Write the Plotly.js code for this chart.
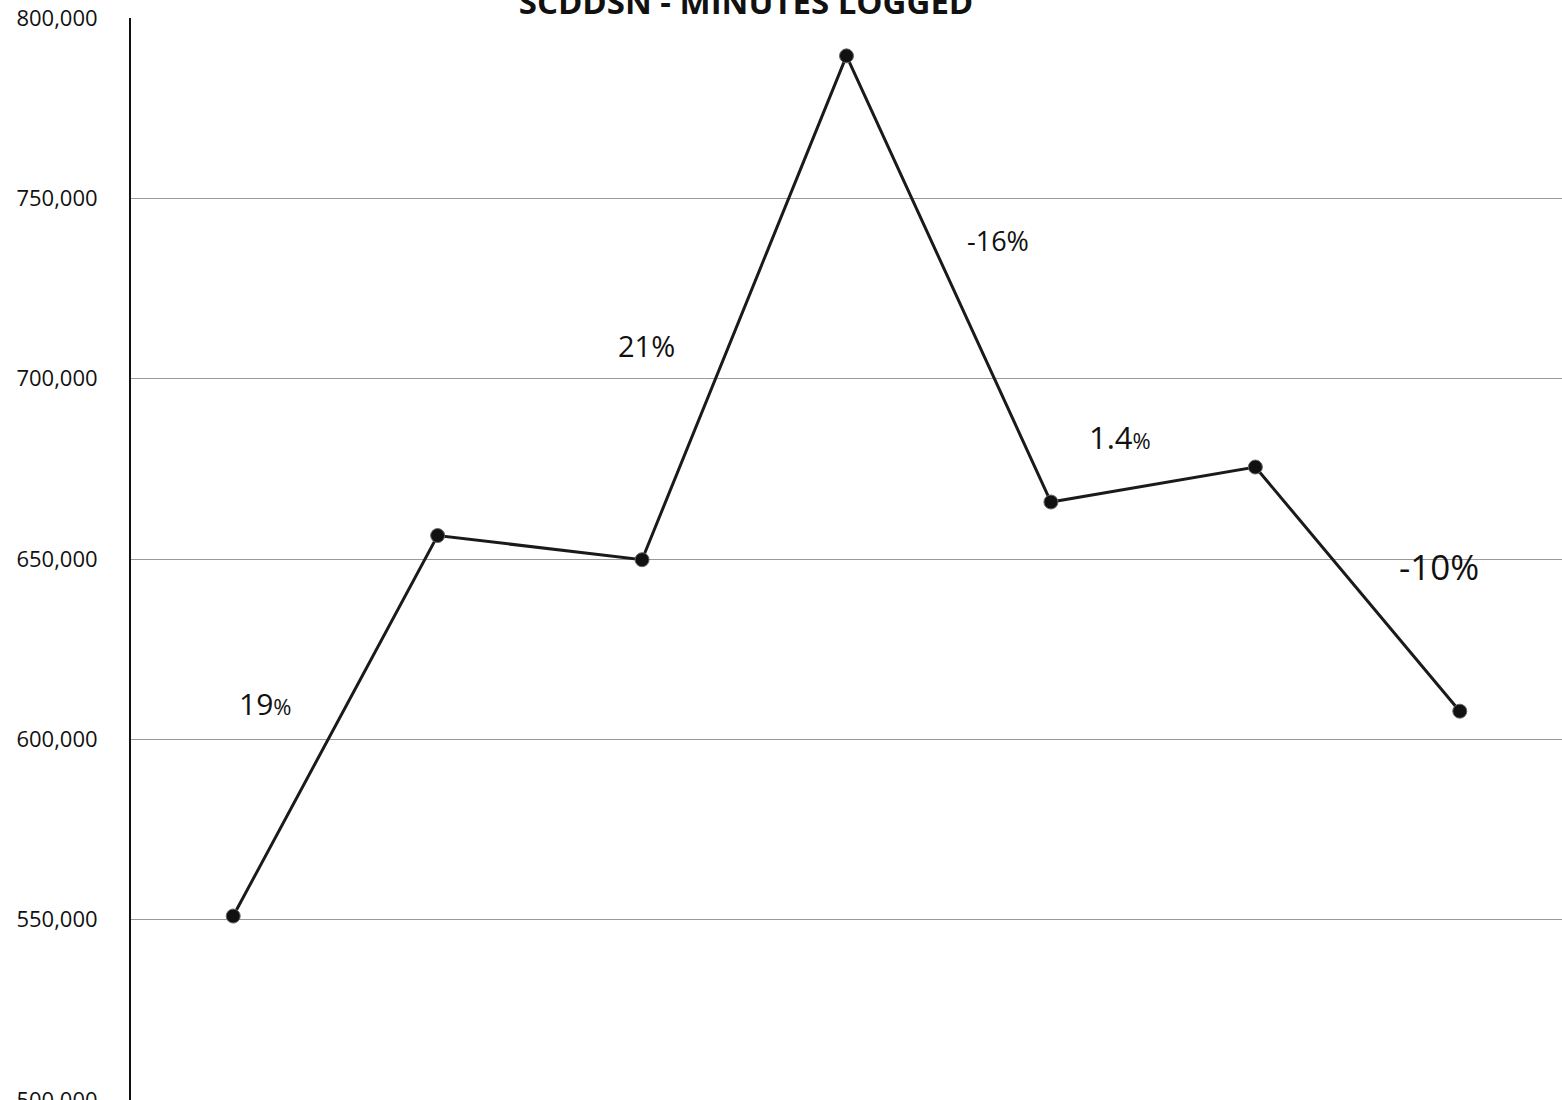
<!DOCTYPE html>
<html>
<head>
<meta charset="utf-8">
<script src="https://cdn.plot.ly/plotly-3.0.1.min.js"></script>
<style>html,body{margin:0;padding:0;background:#fff;}#chart{width:1562px;height:1100px;}</style>
</head>
<body>
<div id="chart"></div>
<script>
// Data
const periods = [0, 1, 2, 3, 4, 5, 6];
const minutesLogged = [551000, 656500, 649800, 789500, 665800, 675500, 607800];
const changeLabels = ['19<span style="font-size:22px">%</span>', '21%', '-16%', '1.4<span style="font-size:22px">%</span>', '-10%'];
const yTickVals = [500000, 550000, 600000, 650000, 700000, 750000, 800000];
const yTickText = ['500,000', '550,000', '600,000', '650,000', '700,000', '750,000', '800,000'];

// Label placement (layout only)
const labelPos = [
  {x: 0.16, y: 609800, size: 30},
  {x: 2.02, y: 709300, size: 29},
  {x: 3.74, y: 738400, size: 27},
  {x: 4.34, y: 683800, size: 31},
  {x: 5.9, y: 648000, size: 35}
];

const trace = {
  x: periods,
  y: minutesLogged,
  type: 'scatter',
  mode: 'lines+markers',
  line: {color: '#1a1a1a', width: 3},
  marker: {color: '#111', size: 14, line: {color: '#666', width: 1}},
  hoverinfo: 'skip',
  showlegend: false
};

const annotations = changeLabels.map((t, i) => ({
  x: labelPos[i].x, y: labelPos[i].y, xref: 'x', yref: 'y',
  text: t, showarrow: false,
  font: {family: 'Open Sans, sans-serif', size: labelPos[i].size, color: '#111'},
  xanchor: 'center', yanchor: 'middle'
}));

const layout = {
  width: 1562, height: 1100,
  margin: {l: 131, r: 0, t: 18, b: 0, pad: 0},
  paper_bgcolor: '#fff', plot_bgcolor: '#fff',
  title: {
    text: '<b>SCDDSN - MINUTES LOGGED</b>',
    font: {family: 'Open Sans, sans-serif', size: 33, color: '#111'},
    x: 746/1562, xref: 'container', xanchor: 'center',
    y: 1 - 2/1100, yref: 'container', yanchor: 'middle'
  },
  xaxis: {
    range: [-0.5, 6.5], showgrid: false, zeroline: false,
    showticklabels: false, ticks: '', showline: false
  },
  yaxis: {
    range: [500000, 800000],
    tickvals: yTickVals, ticktext: yTickText,
    tickfont: {family: 'Open Sans, sans-serif', size: 22, color: '#111'},
    ticklabelstandoff: 27,
    ticklabeloverflow: 'allow',
    showgrid: true, gridcolor: '#999', gridwidth: 1,
    zeroline: false, showline: true, linecolor: '#111', linewidth: 2,
    ticks: ''
  },
  annotations: annotations
};

Plotly.newPlot('chart', [trace], layout, {displayModeBar: false, staticPlot: true});
</script>
</body>
</html>
